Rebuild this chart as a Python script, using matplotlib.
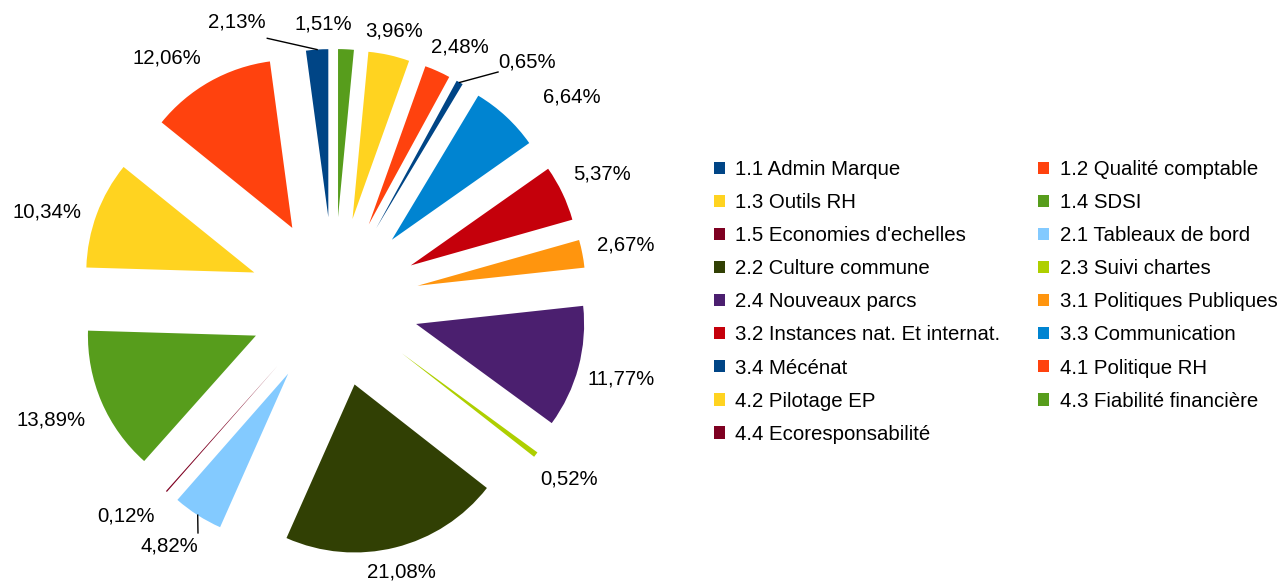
import numpy as np
import matplotlib
matplotlib.use("Agg")
from matplotlib import pyplot as plt
from matplotlib.patches import Patch

plt.rcParams['font.family'] = ['Liberation Sans', 'DejaVu Sans']

LABELS = ["1.1 Admin Marque", "1.2 Qualité comptable", "1.3 Outils RH", "1.4 SDSI",
          "1.5 Economies d'echelles", "2.1 Tableaux de bord", "2.2 Culture commune",
          "2.3 Suivi chartes", "2.4 Nouveaux parcs", "3.1 Politiques Publiques",
          "3.2 Instances nat. Et internat.", "3.3 Communication", "3.4 Mécénat",
          "4.1 Politique RH", "4.2 Pilotage EP", "4.3 Fiabilité financière",
          "4.4 Ecoresponsabilité"]
VALUES = [2.13, 12.06, 10.34, 13.89, 0.12, 4.82, 21.08, 0.52, 11.77, 2.67,
          5.37, 6.64, 0.65, 2.48, 3.96, 1.51, 0.0]
COLORS = ["#004586", "#ff420e", "#ffd320", "#579d1c", "#7e0021", "#83caff",
          "#314004", "#aecf00", "#4b1f6f", "#ff950e", "#c5000b", "#0084d1",
          "#004586", "#ff420e", "#ffd320", "#579d1c", "#7e0021"]

# pie geometry in pixels (axes is set up so 1 data unit = 1 px)
R = 168
EXPL = 85
FS = 14.7

# labels moved by hand: index -> (angle, distance)
LABEL_AT = {1: (124.4, 296), 2: (162.6, 301), 3: (202.6, 307), 4: (225.8, 298),
            11: (40.7, 314), 13: (63.7, 284), 15: (92.3, 278)}
# labels with a leader line: index -> (angle, distance, text dx, text dy, ha, va)
LEADERS = {0: (104.2, 272, -2, 7, 'right', 'bottom'),
           12: (54.5, 282.5, 0, 1, 'left', 'bottom'),
           5: (239.5, 268, 0, -4, 'right', 'top')}

fig = plt.figure(figsize=(12.84, 5.82), dpi=100)
W = 640
cx, cy = 334, 582 - 302
ax = fig.add_axes([(cx - W / 2) / 1284, (cy - W / 2) / 582, W / 1284, W / 582])

wedges, _ = ax.pie(VALUES, colors=COLORS, radius=R, explode=[EXPL] * len(VALUES),
                   startangle=90, counterclock=True, wedgeprops=dict(linewidth=0))
ax.set_xlim(-W / 2, W / 2)
ax.set_ylim(-W / 2, W / 2)
ax.axis('off')


def pol(a, d):
    t = np.deg2rad(a)
    return d * np.cos(t), d * np.sin(t)


for i, w in enumerate(wedges):
    if VALUES[i] == 0:
        continue
    txt = f"{VALUES[i]:.2f}%".replace('.', ',')
    mid = (w.theta1 + w.theta2) / 2
    if i in LEADERS:
        a, d, dx, dy, ha, va = LEADERS[i]
        x0, y0 = pol(mid, R + EXPL)
        x1, y1 = pol(a, d)
        ax.plot([x0, x1], [y0, y1], color='black', lw=1)
        ax.text(x1 + dx, y1 + dy, txt, ha=ha, va=va, fontsize=FS)
        continue
    if i in LABEL_AT:
        a, d = LABEL_AT[i]
    else:
        t = np.deg2rad(mid)
        a, d = mid, 265 + 32 * abs(np.cos(t)) + 6 * abs(np.sin(t))
    x, y = pol(a, d)
    ax.text(x, y, txt, ha='center', va='center', fontsize=FS)

# legend is read row by row, matplotlib fills column by column
order = list(range(0, len(LABELS), 2)) + list(range(1, len(LABELS), 2))
handles = [Patch(facecolor=COLORS[k], edgecolor='none') for k in order]
fig.legend(handles, [LABELS[k] for k in order], ncol=2, loc='upper left',
           bbox_to_anchor=(714 / 1284, 1 - 160 / 582), frameon=False,
           fontsize=FS, handlelength=0.55, handleheight=0.55, handletextpad=0.5,
           columnspacing=1.84, labelspacing=0.69, borderpad=0, borderaxespad=0)

fig.savefig("out.png", dpi=100)
